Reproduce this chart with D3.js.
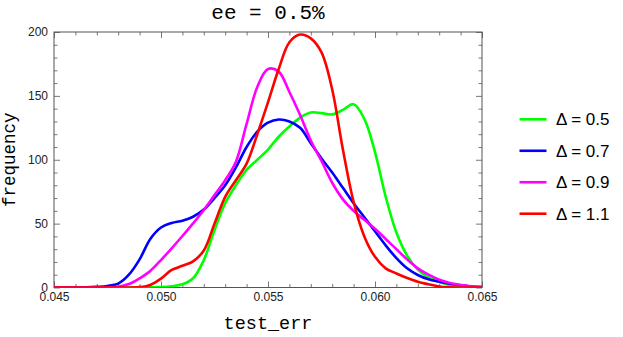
<!DOCTYPE html>
<html>
<head>
<meta charset="utf-8">
<script src="https://cdn.jsdelivr.net/npm/d3@7"></script>
<style>
  html, body { margin: 0; padding: 0; background: #fff; }
  svg { display: block; }
</style>
</head>
<body>
<svg id="chart" width="623" height="337"></svg>
<script>
// test_err sample points (every 0.0005)
const testErr = d3.range(41).map((i) => +(0.045 + i * 0.0005).toFixed(4));

const freqD05 = [0, 0, 0, 0, 0, 0, 0, 0, 0, 0.1, 0.3, 1, 2.5, 7.2, 21.5, 45, 66, 80, 92, 100,
  108, 118, 126, 133, 137, 136.5, 135.5, 139, 143.5, 132, 106, 71, 43, 25, 14, 8, 4.5, 2, 0.8, 0.3, 0.1];
const freqD07 = [0, 0, 0, 0.1, 0.5, 1.2, 3, 10, 22, 38, 47, 50.5, 52.3, 55.4, 61, 70, 80, 94, 110, 122,
  129, 131.5, 130, 125, 113, 101, 90, 78, 66, 55, 44, 33, 23, 15, 9.8, 6.4, 4.5, 3, 1.8, 0.8, 0.3];
const freqD09 = [0, 0, 0, 0, 0, 0.1, 0.5, 2.7, 7.2, 13, 21.5, 30.7, 40.3, 50.2, 60.7, 72.4, 84, 98.5, 128, 157,
  171, 169, 153, 135, 115, 99, 82, 69, 60, 53, 46, 38, 30, 22, 15, 10, 6, 3.5, 2, 0.8, 0.3];
const freqD11 = [0, 0, 0, 0, 0, 0, 0, 0, 0.3, 2, 7, 13.7, 17, 20.5, 29, 50, 71, 84, 97, 120,
  145, 171, 192, 198, 195, 184, 155, 108, 67, 40, 24, 15, 11, 7.5, 4.5, 2.5, 0.8, 0.2, 0, 0, 0];

const seriesLabels = ['Δ = 0.5', 'Δ = 0.7', 'Δ = 0.9', 'Δ = 1.1'];
const seriesColors = ['#00ff00', '#0000ff', '#ff00ff', '#ff0000'];
const seriesValues = [freqD05, freqD07, freqD09, freqD11];

const xTicks = [0.045, 0.05, 0.055, 0.06, 0.065];
const yTicks = [0, 50, 100, 150, 200];

const plot = { left: 54, right: 482, top: 32, bottom: 287.5 };
const monoFont = "'Courier New', 'Liberation Mono', monospace";
const sansFont = "Arial, 'Liberation Sans', Helvetica, sans-serif";
const frameColor = '#555';

const svg = d3.select('#chart');

const x = d3.scaleLinear().domain([0.045, 0.065]).range([plot.left, plot.right]);
const y = d3.scaleLinear().domain([0, 200]).range([plot.bottom, plot.top]);

svg.append('defs').append('clipPath').attr('id', 'plotClip')
  .append('rect')
  .attr('x', plot.left).attr('y', plot.top - 2)
  .attr('width', plot.right - plot.left)
  .attr('height', plot.bottom - plot.top + 2);

// Frame ticks (inward, all four sides)
const xMinor = d3.range(46, 65).map((v) => v / 1000).filter((v) => Math.round(v * 1000) % 5 !== 0);
const yMinor = d3.range(10, 200, 10).filter((v) => v % 50 !== 0);

function addAxis(axisGen, tx, ty) {
  const g = svg.append('g').attr('transform', `translate(${tx},${ty})`).call(axisGen);
  g.select('.domain').remove();
  g.selectAll('line').attr('stroke', frameColor).attr('stroke-width', 0.8);
  return g;
}

// bottom: major with labels
const xAxis = addAxis(d3.axisBottom(x).tickValues(xTicks).tickSizeInner(-6).tickSizeOuter(0)
  .tickPadding(5).tickFormat(d3.format('.3f')), 0, plot.bottom);
xAxis.selectAll('text').attr('font-family', sansFont).attr('font-size', 12).attr('fill', '#222');
addAxis(d3.axisBottom(x).tickValues(xMinor).tickSizeInner(-3.5).tickSizeOuter(0).tickFormat(''), 0, plot.bottom);
// top
addAxis(d3.axisTop(x).tickValues(xTicks).tickSizeInner(-6).tickSizeOuter(0).tickFormat(''), 0, plot.top);
addAxis(d3.axisTop(x).tickValues(xMinor).tickSizeInner(-3.5).tickSizeOuter(0).tickFormat(''), 0, plot.top);
// left: major with labels
const yAxis = addAxis(d3.axisLeft(y).tickValues(yTicks).tickSizeInner(-6).tickSizeOuter(0)
  .tickPadding(6).tickFormat(d3.format('d')), plot.left, 0);
yAxis.selectAll('text').attr('font-family', sansFont).attr('font-size', 12).attr('fill', '#222');
addAxis(d3.axisLeft(y).tickValues(yMinor).tickSizeInner(-3.5).tickSizeOuter(0).tickFormat(''), plot.left, 0);
// right
addAxis(d3.axisRight(y).tickValues(yTicks).tickSizeInner(-6).tickSizeOuter(0).tickFormat(''), plot.right, 0);
addAxis(d3.axisRight(y).tickValues(yMinor).tickSizeInner(-3.5).tickSizeOuter(0).tickFormat(''), plot.right, 0);

// Frame box
svg.append('rect')
  .attr('x', plot.left).attr('y', plot.top)
  .attr('width', plot.right - plot.left).attr('height', plot.bottom - plot.top)
  .attr('fill', 'none').attr('stroke', frameColor).attr('stroke-width', 1);

// Curves
const line = d3.line()
  .x((d) => x(d[0]))
  .y((d) => y(Math.max(0, d[1])))
  .curve(d3.curveCatmullRom.alpha(0.5));

const curves = svg.append('g').attr('clip-path', 'url(#plotClip)');
seriesValues.forEach((vals, i) => {
  curves.append('path')
    .datum(testErr.map((t, j) => [t, vals[j]]))
    .attr('d', line)
    .attr('fill', 'none')
    .attr('stroke', seriesColors[i])
    .attr('stroke-width', 2.6)
    .attr('stroke-linejoin', 'round');
});

// Title and axis labels
svg.append('text')
  .attr('x', (plot.left + plot.right) / 2).attr('y', 19)
  .attr('text-anchor', 'middle')
  .attr('font-family', monoFont).attr('font-size', 21).attr('fill', '#000')
  .text('ee = 0.5%');

svg.append('text')
  .attr('x', (plot.left + plot.right) / 2).attr('y', 329)
  .attr('text-anchor', 'middle')
  .attr('font-family', monoFont).attr('font-size', 18.5).attr('fill', '#000')
  .text('test_err');

svg.append('text')
  .attr('transform', `translate(15,${(plot.top + plot.bottom) / 2}) rotate(-90)`)
  .attr('text-anchor', 'middle')
  .attr('font-family', monoFont).attr('font-size', 17.5).attr('fill', '#000')
  .text('frequency');

// Legend
const legendRow = d3.scalePoint().domain(seriesLabels).range([119.3, 213.7]);
const legend = svg.append('g');
seriesLabels.forEach((lab, i) => {
  const ly = legendRow(lab);
  legend.append('line')
    .attr('x1', 519.5).attr('x2', 546.5)
    .attr('y1', ly).attr('y2', ly)
    .attr('stroke', seriesColors[i]).attr('stroke-width', 2.6);
  legend.append('text')
    .attr('x', 556).attr('y', ly + 6)
    .attr('font-family', sansFont).attr('font-size', 17).attr('fill', '#000')
    .text(lab);
});
</script>
</body>
</html>
